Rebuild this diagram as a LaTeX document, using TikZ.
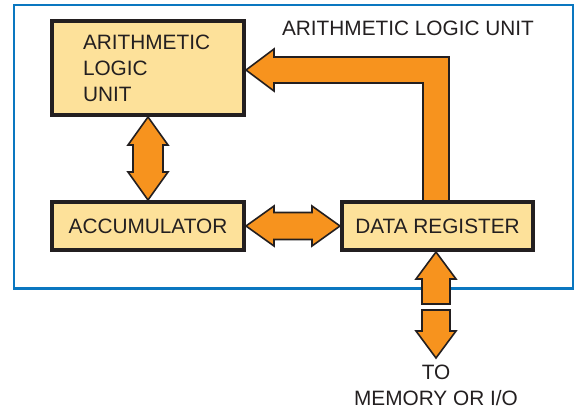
\documentclass[tikz,border=0pt]{standalone}
\usepackage{fontspec}
\setmainfont{Liberation Sans}
\usetikzlibrary{calc,backgrounds}
\definecolor{arrorange}{HTML}{F7931E}
\definecolor{boxyellow}{HTML}{FDE19A}
\definecolor{inkdark}{HTML}{231F20}
\definecolor{frameblue}{HTML}{0A77C0}
\tikzset{
  unitbox/.style={draw=inkdark, line width=4pt, fill=boxyellow, inner sep=0pt,
    text=inkdark, font=\fontsize{20.8}{26}\selectfont},
  blockarrow/.style={fill=arrorange, draw=inkdark, line width=1.6pt, line join=miter},
  lbl/.style={text=inkdark, font=\fontsize{20.8}{26}\selectfont, inner sep=0pt},
}
\begin{document}
\begin{tikzpicture}[x=1pt,y=-1pt]
\useasboundingbox (0,0) rectangle (575,410);
% boxes
\node[unitbox, minimum width=192pt, minimum height=94pt, text width=130pt,
      inner xsep=31pt, align=left] (alu) at (148,68) {ARITHMETIC\\LOGIC\\UNIT};
\node[unitbox, minimum width=192pt, minimum height=48pt] (acc) at (148,226) {ACCUMULATOR};
\node[unitbox, minimum width=191pt, minimum height=48pt] (dr) at (437.5,226) {DATA REGISTER};
% labels
\node[lbl, anchor=north, align=center] (mem) at (436,364.5) {TO\\MEMORY OR I/O};
\node[lbl, anchor=base] (title) at (408,35) {ARITHMETIC LOGIC UNIT};
\coordinate (T) at ($(alu.east)+(0,2)$);
\coordinate (V) at ($(dr.north)+(-1.5,0)$);
\coordinate (B) at ($(dr.south)+(-1.5,0)$);
\coordinate (io) at (436,358);
\begin{pgfonlayer}{background}
\draw[frameblue, line width=2.2pt] (14,5.3) rectangle (573,288.5);
% ALU <-> ACC
\draw[blockarrow] (alu.south) -- ($(alu.south)+(20,28)$) -- ($(alu.south)+(15,28)$)
  -- ($(acc.north)+(15,-28)$) -- ($(acc.north)+(20,-28)$) -- (acc.north)
  -- ($(acc.north)+(-20,-28)$) -- ($(acc.north)+(-15,-28)$)
  -- ($(alu.south)+(-15,28)$) -- ($(alu.south)+(-20,28)$) -- cycle;
% ACC <-> DR
\draw[blockarrow] (acc.east) -- ($(acc.east)+(28,-20)$) -- ($(acc.east)+(28,-13.5)$)
  -- ($(dr.west)+(-28,-13.5)$) -- ($(dr.west)+(-28,-20)$) -- (dr.west)
  -- ($(dr.west)+(-28,20)$) -- ($(dr.west)+(-28,13.5)$)
  -- ($(acc.east)+(28,13.5)$) -- ($(acc.east)+(28,20)$) -- cycle;
% DR -> ALU
\draw[blockarrow] ($(V)+(-13,2)$) -- ($(V|-T)+(-13,13)$) -- ($(T)+(28,13)$)
  -- ($(T)+(28,21)$) -- (T) -- ($(T)+(28,-21)$) -- ($(T)+(28,-13)$)
  -- ($(V|-T)+(13,-13)$) -- ($(V)+(13,2)$) -- cycle;
% DR <-> memory
\draw[blockarrow] (B) -- ($(B)+(20,27)$) -- ($(B)+(14,27)$) -- ($(B)+(14,52)$)
  -- ($(B)+(-14,52)$) -- ($(B)+(-14,27)$) -- ($(B)+(-20,27)$) -- cycle;
\draw[blockarrow] (io) -- ($(io)+(20,-27)$) -- ($(io)+(14,-27)$) -- ($(io)+(14,-48)$)
  -- ($(io)+(-14,-48)$) -- ($(io)+(-14,-27)$) -- ($(io)+(-20,-27)$) -- cycle;
\end{pgfonlayer}
\end{tikzpicture}
\end{document}
